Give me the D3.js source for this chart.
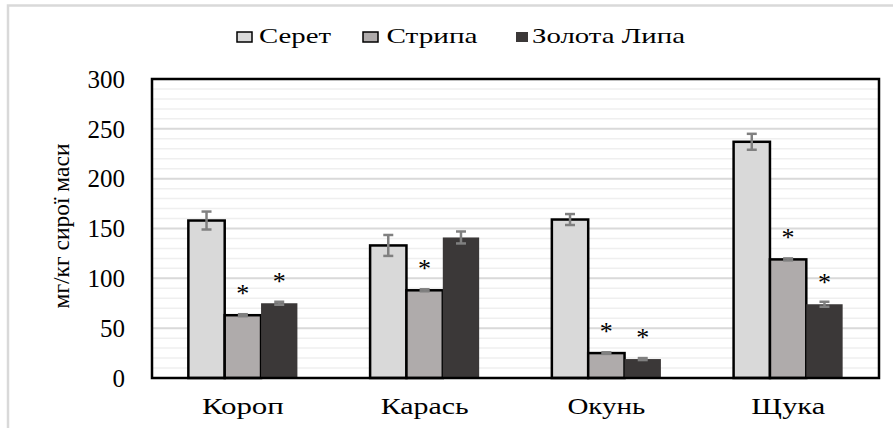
<!DOCTYPE html>
<html><head><meta charset="utf-8">
<script src="https://cdn.jsdelivr.net/npm/d3@7"></script>
<style>
html,body{margin:0;padding:0;background:#fff;}
</style></head>
<body><svg id="c" width="893" height="428"></svg>
<script>
const categories = ["Короп","Карась","Окунь","Щука"];
const seriesNames = ["Серет","Стрипа","Золота Липа"];
const serValues = [158, 133, 159, 237];
const serErrors = [9, 10.5, 5.5, 8];
const stripaValues = [63, 88, 25, 119];
const stripaErrors = [1, 1, 0.8, 1];
const zlValues = [75, 141, 19, 74];
const zlErrors = [1.5, 6, 1, 2.5];
const stripaSig = [true, true, true, true];
const zlSig = [true, false, true, true];
const yTicks = [0, 50, 100, 150, 200, 250, 300];

const colors = ["#d9d9d9", "#afabab", "#3b3838"];
const strokes = ["#000", "#000", "none"];
const catLabelWidths = [82, 88, 78, 74];
const legendTextWidths = [72, 91, 153];
const FONT = "'Times New Roman', Times, 'Liberation Serif', Tinos, 'DejaVu Serif', 'Noto Serif', 'Noto Serif CJK SC', serif";

const svg = d3.select("#c");
const L = 152, R = 879, T = 79, B = 378;

svg.append("path").attr("d", "M8,428 L8,5.5 L893,5.5")
  .attr("fill","none").attr("stroke","#d9d9d9").attr("stroke-width",2.5);

const y = d3.scaleLinear().domain([0,300]).range([B,T]);
const x0 = d3.scaleBand().domain(categories).range([L,R]).paddingInner(0.4).paddingOuter(0.2);
const x1 = d3.scaleBand().domain(seriesNames).range([0, x0.bandwidth()]);

const minor = d3.range(10, 300, 10).filter(v => v % 50 !== 0);
svg.append("g").selectAll("line").data(minor).join("line")
  .attr("x1", L).attr("x2", R).attr("y1", d => y(d)).attr("y2", d => y(d))
  .attr("stroke", "#efefef").attr("stroke-width", 1.5);
svg.append("g").selectAll("line").data(yTicks.filter(v => v>0 && v<300)).join("line")
  .attr("x1", L).attr("x2", R).attr("y1", d => y(d)).attr("y2", d => y(d))
  .attr("stroke", "#d9d9d9").attr("stroke-width", 2);

const data = categories.map((c, i) => ({
  cat: c,
  bars: [
    {s: seriesNames[0], v: serValues[i], e: serErrors[i], sig: false, k: 0},
    {s: seriesNames[1], v: stripaValues[i], e: stripaErrors[i], sig: stripaSig[i], k: 1},
    {s: seriesNames[2], v: zlValues[i], e: zlErrors[i], sig: zlSig[i], k: 2}
  ]
}));

const g = svg.append("g").selectAll("g").data(data).join("g")
  .attr("transform", d => `translate(${x0(d.cat)},0)`);

g.selectAll("rect").data(d => d.bars).join("rect")
  .attr("x", d => x1(d.s)).attr("width", x1.bandwidth())
  .attr("y", d => y(d.v)).attr("height", d => B - y(d.v))
  .attr("fill", d => colors[d.k]).attr("stroke", d => strokes[d.k]).attr("stroke-width", 2.5);

const eb = g.selectAll("g.eb").data(d => d.bars).join("g").attr("class","eb")
  .attr("stroke", "#808080").attr("stroke-width", 2.5);
eb.append("line").attr("x1", d => x1(d.s)+x1.bandwidth()/2).attr("x2", d => x1(d.s)+x1.bandwidth()/2)
  .attr("y1", d => y(d.v+d.e)).attr("y2", d => y(d.v-d.e));
eb.append("line").attr("x1", d => x1(d.s)+x1.bandwidth()/2-5).attr("x2", d => x1(d.s)+x1.bandwidth()/2+5)
  .attr("y1", d => y(d.v+d.e)).attr("y2", d => y(d.v+d.e));
eb.append("line").attr("x1", d => x1(d.s)+x1.bandwidth()/2-5).attr("x2", d => x1(d.s)+x1.bandwidth()/2+5)
  .attr("y1", d => y(d.v-d.e)).attr("y2", d => y(d.v-d.e));

g.selectAll("text.sig").data(d => d.bars.filter(b => b.sig)).join("text").attr("class","sig")
  .attr("x", d => x1(d.s)+x1.bandwidth()/2).attr("y", d => y(d.v) - 13)
  .attr("text-anchor","middle").style("font-family", FONT).attr("font-size", 26).text("*");

svg.append("rect").attr("x", L).attr("y", T).attr("width", R-L).attr("height", B-T)
  .attr("fill","none").attr("stroke","#000").attr("stroke-width",2.5);

svg.append("g").selectAll("text").data(yTicks).join("text")
  .attr("x", 125).attr("y", d => y(d)).attr("dy","0.35em")
  .attr("text-anchor","end").style("font-family", FONT).attr("font-size", 25).text(d => d);

svg.append("text").attr("transform", "translate(69,226) rotate(-90)")
  .attr("text-anchor","middle").style("font-family", FONT).attr("font-size", 23)
  .attr("textLength", 165).attr("lengthAdjust","spacingAndGlyphs")
  .text("мг/кг сирої маси");

svg.append("g").selectAll("text").data(categories).join("text")
  .attr("x", (d,i) => x0(d) + x0.bandwidth()/2 - catLabelWidths[i]/2).attr("y", 414)
  .style("font-family", FONT).attr("font-size", 24)
  .attr("textLength", (d,i) => catLabelWidths[i]).attr("lengthAdjust","spacingAndGlyphs")
  .text(d => d);

const legX = [237, 363, 516];
const legTextX = [259, 386.5, 532];
const lg = svg.append("g").selectAll("g").data(seriesNames).join("g");
lg.append("rect").attr("x", (d,i) => legX[i]).attr("y", 32)
  .attr("width", (d,i) => i===2 ? 12 : 15).attr("height", 10)
  .attr("fill", (d,i) => colors[i]).attr("stroke", (d,i) => i===2 ? "none" : "#000").attr("stroke-width", 1.5);
lg.append("text").attr("x", (d,i) => legTextX[i]).attr("y", 43)
  .style("font-family", FONT).attr("font-size", 22)
  .attr("textLength", (d,i) => legendTextWidths[i]).attr("lengthAdjust","spacingAndGlyphs")
  .text(d => d);
</script></body></html>
